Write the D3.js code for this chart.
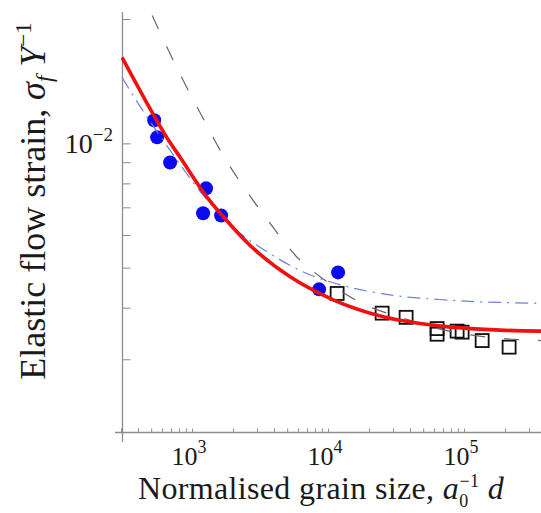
<!DOCTYPE html>
<html>
<head>
<meta charset="utf-8">
<script src="https://cdn.jsdelivr.net/npm/d3@7"></script>
<style>
	body { margin: 0; background: #fff; }
	text { font-family: "Liberation Serif", "Times New Roman", serif; fill: #1a1a1a; }
</style>
</head>
<body>
<div id="chart"></div>
<script>
//values (grain size, flow strain)
var circleX = [526, 553, 689, 1267, 1204, 1634, 8585, 11840];
var circleY = [0.01137, 0.01034, 0.00899, 0.00778, 0.00677, 0.00669, 0.00443, 0.00487];

var squareX = [11650, 24960, 37460, 63300, 63300, 88830, 96670, 135700, 214200];
var squareY = [0.00433, 0.00388, 0.00379, 0.00356, 0.00345, 0.00351, 0.00349, 0.00333, 0.00321];

//thick red fit
var redX = [305, 451, 655, 816, 1290, 1690, 2670, 5260, 10900, 25000, 59000, 184000, 370000];
var redY = [0.01615, 0.01275, 0.01030, 0.00925, 0.00740, 0.00665, 0.00566, 0.00475, 0.00418, 0.00381, 0.00363, 0.00353, 0.00351];

//thin blue dash-dot fit
var blueX = [305, 401, 689, 1145, 1903, 3940, 6225, 13790, 25370, 78900, 368400];
var blueY = [0.01445, 0.01250, 0.00962, 0.00765, 0.00636, 0.00535, 0.00492, 0.00450, 0.00432, 0.00417, 0.00410];

//grey dashed fit
var dashX = [508, 633, 844, 1184, 1690, 2581, 3746, 5917, 9505, 17190, 40070, 66590, 155300, 368400];
var dashY = [0.02041, 0.01747, 0.01437, 0.01162, 0.00935, 0.00757, 0.00640, 0.00530, 0.00466, 0.00412, 0.00373, 0.00355, 0.00339, 0.00333];

var xMajor = [1e3, 1e4, 1e5];
var xMajorLabels = ['3', '4', '5'];
var yMajor = [1e-2];
var yMajorLabels = ['\u22122'];

var width = 541, height = 513;
var plot = { left: 121, right: 546, top: 12, bottom: 432 };

var svg = d3.select('#chart').append('svg')
	.attr('width', width)
	.attr('height', height);

//scales: 136px per decade on x, 413px per decade on y
var xScale = d3.scaleLog()
	.domain([300, 4e5])
	.range([plot.left, plot.right]);

var yScale = d3.scaleLog()
	.domain([2e-3, 2.08e-2])
	.range([plot.bottom, plot.top]);

svg.append('defs').append('clipPath')
	.attr('id', 'plotclip')
  .append('rect')
	.attr('x', plot.left)
	.attr('y', plot.top)
	.attr('width', plot.right - plot.left)
	.attr('height', plot.bottom - plot.top);

//minor + major tick values
var xTicks = [];
[100, 1000, 10000, 100000].forEach(function(p) {
	for (var k = 1; k < 10; k++) {
		var v = k * p;
		if (v >= 300 && v <= 4e5) xTicks.push(v);
	}
});
var yTicks = [2e-3, 3e-3, 4e-3, 5e-3, 6e-3, 7e-3, 8e-3, 9e-3, 1e-2, 2e-2];

var axisColor = '#8c8c8c';

//axes
var xAxis = d3.axisBottom(xScale)
	.tickValues(xTicks)
	.tickSizeInner(-4)
	.tickSizeOuter(0)
	.tickFormat('');

svg.append('g')
	.attr('class', 'x axis')
	.attr('transform', 'translate(0,' + (plot.bottom + 0.5) + ')')
	.call(xAxis);

var yAxis = d3.axisLeft(yScale)
	.tickValues(yTicks)
	.tickSizeInner(-8)
	.tickSizeOuter(0)
	.tickFormat('');

svg.append('g')
	.attr('class', 'y axis')
	.attr('transform', 'translate(' + (plot.left + 1.5) + ',0)')
	.call(yAxis);

svg.selectAll('.axis .domain').remove();
svg.selectAll('.axis line').attr('stroke', axisColor).attr('stroke-width', 1);

//axis lines, crossing a little past the corner
svg.append('line')
	.attr('x1', 115).attr('x2', width)
	.attr('y1', plot.bottom + 0.5).attr('y2', plot.bottom + 0.5)
	.attr('stroke', axisColor).attr('stroke-width', 1.3);
svg.append('line')
	.attr('x1', plot.left + 1.5).attr('x2', plot.left + 1.5)
	.attr('y1', plot.top).attr('y2', plot.bottom + 10)
	.attr('stroke', axisColor).attr('stroke-width', 1.3);

//tick labels 10^n
xMajor.forEach(function(v, i) {
	var t = svg.append('text')
		.attr('x', xScale(v) - 3)
		.attr('y', plot.bottom + 33)
		.attr('text-anchor', 'middle')
		.style('font-size', '26px');
	t.append('tspan').text('10');
	t.append('tspan')
		.attr('dy', -12)
		.style('font-size', '18px')
		.text(xMajorLabels[i]);
});

yMajor.forEach(function(v, i) {
	var t = svg.append('text')
		.attr('x', plot.left - 8)
		.attr('y', yScale(v) + 10)
		.attr('text-anchor', 'end')
		.style('font-size', '28px');
	t.append('tspan').text('10');
	t.append('tspan')
		.attr('dy', -12)
		.style('font-size', '19px')
		.text(yMajorLabels[i]);
});

//axis titles
var xt = svg.append('text')
	.attr('x', 321)
	.attr('y', 499)
	.attr('text-anchor', 'middle')
	.style('font-size', '32px')
	.style('letter-spacing', '0.35px');
xt.append('tspan').text('Normalised grain size, ');
xt.append('tspan').style('font-style', 'italic').text('a');
xt.append('tspan').attr('dy', 8).style('font-size', '18px').text('0');
xt.append('tspan').attr('dx', -9).attr('dy', -20).style('font-size', '18px').text('\u22121');
xt.append('tspan').attr('dy', 12).text(' ');
xt.append('tspan').style('font-style', 'italic').text('d');

var yt = svg.append('text')
	.attr('transform', 'translate(45,201) rotate(-90)')
	.attr('text-anchor', 'middle')
	.style('font-size', '36px');
yt.append('tspan').text('Elastic flow strain, ');
yt.append('tspan').style('font-style', 'italic').text('\u03c3');
yt.append('tspan').attr('dy', 7).style('font-size', '23px').style('font-style', 'italic').text('f');
yt.append('tspan').attr('dy', -7).text(' ');
yt.append('tspan').style('font-style', 'italic').text('Y');
yt.append('tspan').attr('dy', -14).style('font-size', '23px').text('\u22121');

//markers
var chart = svg.append('g').attr('clip-path', 'url(#plotclip)');

chart.selectAll('.sq')
	.data(squareX)
	.enter().append('rect')
	.attr('class', 'sq')
	.attr('x', function(d) { return xScale(d) - 6.5; })
	.attr('y', function(d, i) { return yScale(squareY[i]) - 6.5; })
	.attr('width', 13)
	.attr('height', 13)
	.attr('fill', 'none')
	.attr('stroke', '#111')
	.attr('stroke-width', 1.8);

chart.selectAll('.dot')
	.data(circleX)
	.enter().append('circle')
	.attr('class', 'dot')
	.attr('cx', function(d) { return xScale(d); })
	.attr('cy', function(d, i) { return yScale(circleY[i]); })
	.attr('r', 7)
	.attr('fill', '#0a0af5');

//fitted curves
function pairs(xs, ys) {
	return xs.map(function(d, i) { return [d, ys[i]]; });
}

var line = d3.line()
	.x(function(d) { return xScale(d[0]); })
	.y(function(d) { return yScale(d[1]); })
	.curve(d3.curveMonotoneX);

chart.append('path')
	.attr('d', line(pairs(dashX, dashY)))
	.attr('fill', 'none')
	.attr('stroke', '#666')
	.attr('stroke-width', 1.2)
	.attr('stroke-dasharray', '15,19');

chart.append('path')
	.attr('d', line(pairs(blueX, blueY)))
	.attr('fill', 'none')
	.attr('stroke', '#6f7fe0')
	.attr('stroke-width', 1.2)
	.attr('stroke-dasharray', '13,6,2,6');

chart.append('path')
	.attr('d', line(pairs(redX, redY)))
	.attr('fill', 'none')
	.attr('stroke', '#f01010')
	.attr('stroke-width', 3.6);
</script>
</body>
</html>
